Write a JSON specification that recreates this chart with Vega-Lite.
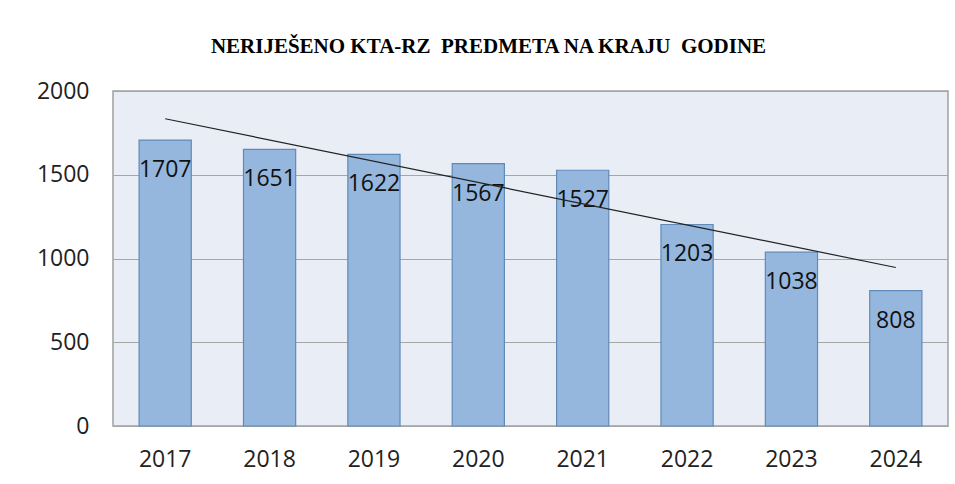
{
  "$schema": "https://vega.github.io/schema/vega-lite/v6.json",
  "autosize": "none",
  "width": 835,
  "height": 335,
  "padding": {"left": 113, "top": 91, "right": 7, "bottom": 58},
  "background": "white",
  "title": {
    "text": "NERIJEŠENO KTA-RZ\u00a0 PREDMETA NA KRAJU\u00a0 GODINE",
    "font": "Liberation Serif",
    "fontSize": 21,
    "fontWeight": "bold",
    "color": "#000000",
    "anchor": "middle",
    "frame": "group",
    "dx": -42,
    "offset": 23
  },
  "data": {
    "values": [
      {"year": 2017, "value": 1707},
      {"year": 2018, "value": 1651},
      {"year": 2019, "value": 1622},
      {"year": 2020, "value": 1567},
      {"year": 2021, "value": 1527},
      {"year": 2022, "value": 1203},
      {"year": 2023, "value": 1038},
      {"year": 2024, "value": 808}
    ]
  },
  "encoding": {
    "x": {
      "field": "year",
      "type": "ordinal",
      "scale": {"paddingInner": 0.5, "paddingOuter": 0.25},
      "axis": {
        "title": null,
        "labelAngle": 0,
        "labelFont": "Open Sans",
        "labelFontSize": 23,
        "labelColor": "#222222",
        "labelPadding": 22,
        "ticks": false,
        "domain": false
      }
    },
    "y": {
      "field": "value",
      "type": "quantitative",
      "scale": {"domain": [0, 2000]},
      "axis": {
        "title": null,
        "values": [0, 500, 1000, 1500, 2000],
        "format": "d",
        "labelFont": "Open Sans",
        "labelFontSize": 23,
        "labelColor": "#222222",
        "labelPadding": 24,
        "ticks": false,
        "domain": false,
        "grid": true,
        "gridColor": "#A6A6A6",
        "gridWidth": 1.2
      }
    }
  },
  "layer": [
    {
      "mark": {"type": "bar", "color": "#95B7DE", "stroke": "#5F8BB8", "strokeWidth": 1.2}
    },
    {
      "mark": {"type": "text", "baseline": "middle", "align": "center", "dy": 30, "font": "Open Sans", "fontSize": 23, "color": "#111111"},
      "encoding": {"text": {"field": "value", "type": "quantitative"}}
    },
    {
      "transform": [{"regression": "value", "on": "year"}],
      "mark": {"type": "line", "color": "#222222", "strokeWidth": 1.2},
      "encoding": {}
    }
  ],
  "config": {
    "view": {"fill": "#E9EDF6", "stroke": "#A0A0A0", "strokeWidth": 1.5}
  }
}
